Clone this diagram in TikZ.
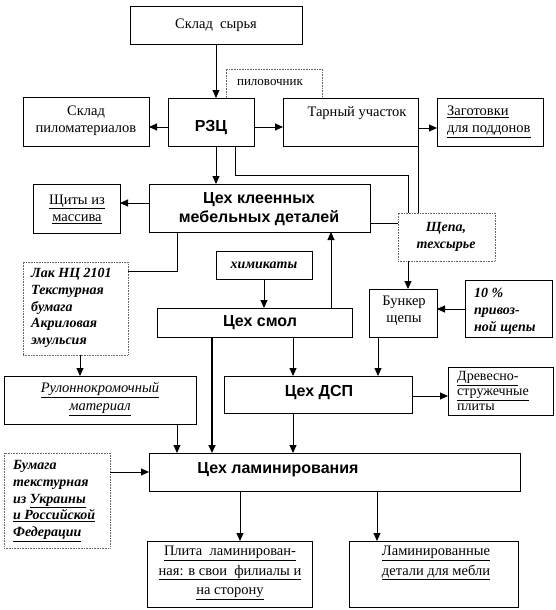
\documentclass[tikz,border=0pt]{standalone}
\usepackage{fontspec}
\setmainfont{Liberation Serif}
\newfontfamily\arialf{Liberation Sans}
\usetikzlibrary{arrows.meta,fit}
\begin{document}
\begin{tikzpicture}[x=1pt,y=-1pt,
  box/.style={draw, line width=0.9pt, inner sep=0pt, outer sep=0pt, fill=white},
  dbox/.style={draw=black!60, line width=0.9pt, dash pattern=on 0.9pt off 0.7pt, inner sep=0pt, outer sep=0pt, fill=white},
  dline/.style={draw=black!60, line width=0.9pt, dash pattern=on 0.9pt off 0.7pt},
  reg/.style={font=\fontsize{14.5}{17}\selectfont, align=center, inner sep=0pt},
  sans/.style={font=\arialf\bfseries\fontsize{16}{19}\selectfont, align=center, inner sep=0pt},
  ital/.style={font=\bfseries\itshape\fontsize{14}{16.8}\selectfont, align=left, inner sep=0pt},
  arr/.style={-{Triangle[length=8pt,width=7pt]}, line width=0.9pt},
  ln/.style={line width=0.9pt}]
\useasboundingbox (0,0) rectangle (555,610);

% piloovochnik (open at bottom)
\draw[dline] (226,98) -- (226,69) -- (322,69) -- (322,98);
\node[reg, font=\fontsize{13}{16}\selectfont] (pilov) at (270,83) {пиловочник};

% boxes
\node[box, fit={(130,6)(302,44)}] (sklad) {};
\node[reg] (tsklad) at (216,25) {Склад\ \ сырья};

\node[box, fit={(168,98)(254,146)}] (rzc) {};
\node[sans] (trzc) at (211,128) {РЗЦ};

\node[box, fit={(23,97)(149,146)}] (skladp) {};
\node[reg] (tskladp) at (86,121) {Склад\\пиломатериалов};

\node[box, fit={(283,98)(418,146)}] (tarny) {};
\node[reg] (ttarny) at (357,113) {Тарный участок};

\node[box, fit={(437,98)(543,146)}] (zag) {};
\node[reg, anchor=west, align=left] (tzag) at (447,122) {\underline{Заготовки}\\\underline{для поддонов}};

\node[box, fit={(149,184)(370,232)}] (kleen) {};
\node[sans] (tkleen) at (259,209) {Цех клеенных\\мебельных деталей};

\node[box, fit={(33,184)(120,233)}] (shchity) {};
\node[reg] (tshchity) at (77,209) {\underline{Щиты из}\\\underline{массива}};

\node[dbox, fit={(398,213)(495,261)}] (shchepa) {};
\node[ital, align=center] (tshchepa) at (446,237) {Щепа,\\техсырье};

\node[dbox, fit={(23,262)(128,355)}] (lak) {};
\node[ital, anchor=west] (tlak) at (31,308) {Лак НЦ 2101\\Текстурная\\бумага\\Акриловая\\эмульсия};

\node[box, fit={(216,251)(312,279)}] (khim) {};
\node[ital] (tkhim) at (264,265) {химикаты};

\node[box, fit={(369,289)(437,337)}] (bunker) {};
\node[reg] (tbunker) at (404,311) {Бункер\\щепы};

\node[box, fit={(465,280)(552,337)}] (p10) {};
\node[ital, anchor=west] (tp10) at (474,311) {10 \%\\привоз-\\ной щепы};

\node[box, fit={(157,308)(352,337)}] (smol) {};
\node[sans] (tsmol) at (260,323) {Цех смол};

\node[box, fit={(4,376)(196,424)}] (rulon) {};
\node[reg, font=\itshape\fontsize{14.5}{18}\selectfont] (trulon) at (100,399) {\underline{Рулоннокромочный}\\\underline{материал}};

\node[box, fit={(224,376)(412,413)}] (dsp) {};
\node[sans] (tdsp) at (319,393) {Цех ДСП};

\node[box, fit={(448,367)(553,415)}] (drev) {};
\node[reg, anchor=west, align=left, font=\fontsize{14}{15}\selectfont] (tdrev) at (457,391) {\underline{Древесно-}\\\underline{стружечные}\\плиты};

\node[box, fit={(149,453)(520,491)}] (lam) {};
\node[sans] (tlam) at (278,470) {Цех ламинирования};

\node[dbox, fit={(4,453)(110,548)}] (bum) {};
\node[ital, anchor=west] (tbum) at (13,501) {Бумага\\текстурная\\из \underline{Украины}\\\underline{и Российской}\\\underline{Федерации}};

\node[box, fit={(147,541)(312,607)}] (plita) {};
\node[reg, font=\fontsize{14.5}{19.5}\selectfont] (tplita) at (230,573) {\underline{Плита\ \ ламинирован-}\\\underline{ная: в свои\ \ филиалы и}\\\underline{на сторону}};

\node[box, fit={(349,541)(518,607)}] (lamdet) {};
\node[reg, font=\fontsize{14.5}{19.5}\selectfont] (tlamdet) at (436,563) {\underline{Ламинированные}\\\underline{детали для мебли}};

% connectors
\draw[arr] (sklad.south) -- (sklad.south |- rzc.north);
\draw[arr] (rzc.west |- 0,127) -- (skladp.east |- 0,127);
\draw[arr] (rzc.east |- 0,127) -- (tarny.west |- 0,127);
\draw[arr] (tarny.east |- 0,128) -- (zag.west |- 0,128);
\draw[arr] (rzc.south -| 216,0) -- (kleen.north -| 216,0);
\draw[ln] (rzc.south -| 235,0) -- (235,175) -- (408,175) -- (shchepa.north -| 408,0);
\draw[ln] (tarny.south east) -- (tarny.south east |- shchepa.north);
\draw[arr] (kleen.west |- 0,203) -- (shchity.east |- 0,203);
\draw[ln] (kleen.east |- 0,223) -- (shchepa.west |- 0,223);
\draw[ln] (kleen.south -| 177,0) |- (lak.east |- 0,271);
\draw[arr] (shchepa.south -| 408,0) -- (bunker.north -| 408,0);
\draw[arr] (p10.west |- 0,309) -- (bunker.east |- 0,309);
\draw[arr] (khim.south) -- (khim.south |- smol.north);
\draw[arr] (smol.north -| 331,0) -- (kleen.south -| 331,0);
\draw[arr] (lak.south -| 80,0) -- (rulon.north -| 80,0);
\draw[arr] (smol.south -| 293,0) -- (dsp.north -| 293,0);
\draw[arr] (bunker.south -| 378,0) -- (dsp.north -| 378,0);
\draw[arr] (dsp.east |- 0,396) -- (drev.west |- 0,396);
\draw[arr] (rulon.south -| 177,0) -- (lam.north -| 177,0);
\draw[arr, line width=1.6pt] (smol.south -| 212,0) -- (lam.north -| 212,0);
\draw[arr] (dsp.south -| 293,0) -- (lam.north -| 293,0);
\draw[arr] (bum.east |- 0,472) -- (lam.west |- 0,472);
\draw[arr] (lam.south -| 240,0) -- (plita.north -| 240,0);
\draw[arr] (lam.south -| 377,0) -- (lamdet.north -| 377,0);
\end{tikzpicture}
\end{document}
